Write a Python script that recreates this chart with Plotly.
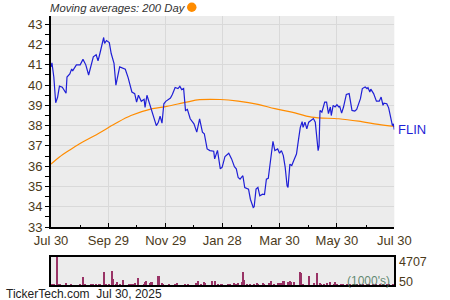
import plotly.graph_objects as go

price_dates = [
    "2024-07-30","2024-07-31","2024-08-02","2024-08-04","2024-08-06","2024-08-08","2024-08-11","2024-08-15",
    "2024-08-16","2024-08-19","2024-08-21","2024-08-22","2024-08-26","2024-08-30","2024-09-02","2024-09-04",
    "2024-09-05","2024-09-08","2024-09-13","2024-09-16","2024-09-18","2024-09-20","2024-09-23","2024-09-24",
    "2024-09-25","2024-09-27","2024-09-30","2024-10-02","2024-10-05","2024-10-07","2024-10-11","2024-10-13",
    "2024-10-17","2024-10-20","2024-10-24","2024-10-27","2024-10-29","2024-10-31","2024-11-03","2024-11-06",
    "2024-11-07","2024-11-09","2024-11-11","2024-11-14","2024-11-17","2024-11-19","2024-11-21","2024-11-23",
    "2024-11-25","2024-11-27","2024-11-29","2024-12-04","2024-12-06","2024-12-09","2024-12-12","2024-12-14",
    "2024-12-16","2024-12-18","2024-12-20","2024-12-22","2024-12-25","2024-12-29","2025-01-01","2025-01-04",
    "2025-01-07","2025-01-09","2025-01-12","2025-01-15","2025-01-19","2025-01-20","2025-01-23","2025-01-26",
    "2025-01-28","2025-01-31","2025-02-04","2025-02-07","2025-02-10","2025-02-12","2025-02-14","2025-02-16",
    "2025-02-19","2025-02-21","2025-02-25","2025-02-27","2025-03-02","2025-03-03","2025-03-05","2025-03-07",
    "2025-03-09","2025-03-12","2025-03-14","2025-03-16","2025-03-18","2025-03-20","2025-03-23","2025-03-25",
    "2025-03-28","2025-03-30","2025-04-01","2025-04-03","2025-04-05","2025-04-07","2025-04-08","2025-04-10",
    "2025-04-12","2025-04-14","2025-04-17","2025-04-19","2025-04-21","2025-04-23","2025-04-24","2025-04-26",
    "2025-04-28","2025-04-30","2025-05-03","2025-05-05","2025-05-07","2025-05-09","2025-05-10","2025-05-11",
    "2025-05-12","2025-05-14","2025-05-16","2025-05-17","2025-05-19","2025-05-21","2025-05-23","2025-05-24",
    "2025-05-26","2025-05-28","2025-05-30","2025-06-01","2025-06-02","2025-06-04","2025-06-06","2025-06-09",
    "2025-06-12","2025-06-14","2025-06-15","2025-06-18","2025-06-20","2025-06-24","2025-06-26","2025-06-29",
    "2025-07-01","2025-07-02","2025-07-04","2025-07-05","2025-07-08","2025-07-11","2025-07-14","2025-07-16",
    "2025-07-18","2025-07-19","2025-07-22","2025-07-24","2025-07-27","2025-07-28","2025-07-29","2025-07-30",
]
price_values = [
    40.9,41.1,40.4,39.13,39.4,39.95,39.9,39.6,
    40.4,40.55,40.8,40.7,41.0,41.0,41.27,41.1,
    41.0,40.5,41.4,41.5,41.2,41.56,42.3,42.35,
    42.06,42.2,42.1,41.56,41.07,40.0,40.9,40.85,
    40.78,40.37,39.66,39.58,39.16,39.5,39.2,39.3,
    38.9,39.5,39.2,38.67,38.2,38.0,38.15,38.47,
    38.12,39.08,39.2,39.36,39.54,39.88,39.83,39.94,
    39.78,39.83,38.75,38.8,38.34,38.09,37.68,38.34,
    37.68,37.6,36.85,36.77,36.74,36.36,36.78,35.87,
    35.95,36.48,36.64,36.36,35.98,35.87,35.44,35.36,
    35.53,34.95,34.87,34.37,33.96,34.0,34.87,34.95,
    34.54,34.62,34.6,35.36,35.4,36.19,37.23,36.77,
    36.85,36.64,36.77,36.52,35.94,35.03,34.95,36.1,
    36.03,36.27,36.6,37.26,37.9,38.2,37.92,38.17,
    37.84,38.17,38.26,38.35,38.17,37.43,36.77,37.0,
    38.75,38.67,39.08,39.16,39.16,38.59,38.92,38.5,
    39.0,38.92,39.03,38.92,38.95,38.62,38.92,39.54,
    39.58,39.08,38.75,38.72,38.8,39.33,39.83,39.91,
    39.83,39.88,39.66,39.8,39.58,39.21,39.21,39.41,
    39.0,39.11,39.08,38.88,38.17,38.0,38.09,37.8,
]

ma_dates = ["2024-07-30","2024-08-08","2024-08-19","2024-08-29","2024-09-18","2024-10-06","2024-10-23",
            "2024-11-15","2024-11-30","2024-12-21","2025-01-04","2025-01-26","2025-02-14","2025-03-07",
            "2025-03-25","2025-04-12","2025-05-03","2025-06-01","2025-06-22","2025-07-13","2025-07-30"]
ma_values = [36.1,36.45,36.8,37.1,37.6,38.09,38.5,38.84,38.95,39.16,39.28,39.29,39.21,39.05,
             38.84,38.67,38.42,38.34,38.22,38.06,37.96]

vol_dates = [
    "2024-07-31","2024-08-02","2024-08-06","2024-08-08","2024-08-09","2024-08-15","2024-08-20","2024-08-30",
    "2024-09-02","2024-09-04","2024-09-11","2024-09-13","2024-09-16","2024-09-19","2024-09-20","2024-09-25",
    "2024-09-27","2024-09-30","2024-10-03","2024-10-04","2024-10-07","2024-10-08","2024-10-11","2024-10-15",
    "2024-10-21","2024-10-23","2024-10-25","2024-10-28","2024-10-31","2024-11-06","2024-11-07","2024-11-08",
    "2024-11-12","2024-11-14","2024-11-15","2024-11-21","2024-11-22","2024-11-25","2024-11-26","2024-12-03",
    "2024-12-09","2024-12-11","2024-12-20","2024-12-23","2024-12-31","2025-01-02","2025-01-06","2025-01-09",
    "2025-01-10","2025-01-17","2025-01-20","2025-01-24","2025-01-27","2025-01-28","2025-02-03","2025-02-05",
    "2025-02-10","2025-02-12","2025-02-14","2025-02-18","2025-02-19","2025-02-20","2025-02-24","2025-02-27",
    "2025-03-03","2025-03-06","2025-03-07","2025-03-13","2025-03-14","2025-03-19","2025-03-21","2025-03-24",
    "2025-03-28","2025-03-31","2025-04-01","2025-04-03","2025-04-04","2025-04-08","2025-04-10","2025-04-11",
    "2025-04-14","2025-04-21","2025-04-22","2025-04-24","2025-04-30","2025-05-01","2025-05-06","2025-05-09",
    "2025-05-12","2025-05-13","2025-05-16","2025-05-20","2025-05-23","2025-05-27","2025-05-28","2025-05-30",
    "2025-06-04","2025-06-06","2025-06-10","2025-06-13","2025-06-17","2025-06-20","2025-06-24","2025-06-27",
    "2025-07-01","2025-07-03","2025-07-08","2025-07-11","2025-07-15","2025-07-18","2025-07-22","2025-07-25",
    "2025-07-29",
]
vol_values = [
    270,270,4707,160,160,380,160,270,
    1350,270,270,270,270,160,160,2150,
    160,270,2430,1080,270,490,270,810,
    270,270,270,370,1190,270,540,700,
    370,490,540,1620,1620,370,270,270,
    270,370,270,270,370,700,270,540,
    430,700,700,270,270,160,270,270,
    430,160,430,600,2150,810,270,270,
    270,320,160,430,270,430,700,270,
    320,320,320,700,700,600,700,600,
    540,2150,2050,270,1620,270,320,2000,
    320,270,270,430,600,270,600,160,
    160,270,160,270,160,270,160,270,
    160,270,160,270,160,270,160,270,
    160,
]

x_tickvals = ["2024-07-30","2024-09-29","2024-11-29","2025-01-28","2025-03-30","2025-05-30","2025-07-30"]
x_ticktext = ["Jul 30","Sep 29","Nov 29","Jan 28","Mar 30","May 30","Jul 30"]
x_minor = ["2024-08-30","2024-10-29","2024-12-29","2025-02-28","2025-04-30","2025-06-30"]
y_tickvals = [33,34,35,36,37,38,39,40,41,42,43]

TXT = "#4b3a1a"
FONT = "Liberation Sans, Arial, sans-serif"
BG = "#ececec"
GRID = "#d9d9d9"

fig = go.Figure()
fig.add_trace(go.Scatter(x=ma_dates, y=ma_values, mode="lines", line=dict(color="#ff8c00", width=1.2, shape="spline"),
                         xaxis="x", yaxis="y", hoverinfo="skip"))
fig.add_trace(go.Scatter(x=price_dates, y=price_values, mode="lines", line=dict(color="#1f1fd6", width=1.2),
                         xaxis="x", yaxis="y", hoverinfo="skip"))
fig.add_trace(go.Bar(x=vol_dates, y=vol_values, marker=dict(color="#993366", line=dict(width=0)),
                     width=1.4 * 86400000, xaxis="x2", yaxis="y2", hoverinfo="skip"))

xdom = [51 / 450, 394.3 / 450]
xr = ["2024-07-30", "2025-07-30"]
fig.update_layout(
    width=450, height=300, margin=dict(l=0, r=0, t=0, b=0, autoexpand=False),
    paper_bgcolor="white", plot_bgcolor=BG, showlegend=False, bargap=0,
    font=dict(family=FONT, color=TXT, size=13),
    xaxis=dict(domain=xdom, range=xr, type="date", anchor="y", automargin=False,
               tickmode="array", tickvals=x_tickvals, ticktext=x_ticktext,
               ticks="inside", ticklen=4, tickcolor="black", tickwidth=1,
               showgrid=True, gridcolor=GRID, gridwidth=1,
               showline=True, linecolor="black", linewidth=2,
               tickfont=dict(size=13, color=TXT, family=FONT),
               minor=dict(tickvals=x_minor, ticks="inside", ticklen=2, tickcolor="black", showgrid=False),
               zeroline=False, fixedrange=True),
    yaxis=dict(domain=[1 - 227 / 300, 1 - 16 / 300], range=[33, 43.41], anchor="x", automargin=False,
               tickmode="array", tickvals=y_tickvals,
               ticks="outside", ticklen=4, tickcolor="black", tickwidth=1,
               showgrid=True, gridcolor=GRID, gridwidth=1,
               showline=True, linecolor="black", linewidth=2,
               tickfont=dict(size=13, color=TXT, family=FONT),
               minor=dict(dtick=0.5, tick0=33, ticks="outside", ticklen=4, tickcolor="black", showgrid=False),
               zeroline=False, fixedrange=True),
    xaxis2=dict(domain=xdom, range=xr, type="date", anchor="y2", automargin=False,
                showticklabels=False, ticks="", showgrid=False,
                showline=True, linecolor="black", linewidth=2, mirror=True, zeroline=False),
    yaxis2=dict(domain=[1 - 285 / 300, 1 - 256.7 / 300], range=[0, 4707], anchor="x2", automargin=False,
                showticklabels=False, ticks="", showgrid=False,
                showline=True, linecolor="black", linewidth=2, mirror=True, zeroline=False),
)

# Title with orange marker
fig.add_annotation(text="<i>Moving averages: 200 Day</i>", xref="paper", yref="paper",
                   x=48 / 450, y=1 - 8 / 300, xanchor="left", yanchor="middle", showarrow=False,
                   font=dict(size=11.3, color="#333333", family=FONT))
fig.add_shape(type="circle", xref="paper", yref="paper",
              x0=187 / 450, x1=196.5 / 450, y0=1 - 12 / 300, y1=1 - 2.5 / 300,
              fillcolor="#ff8c00", line=dict(width=0))

# Series label
fig.add_annotation(text="FLIN", xref="paper", yref="y", x=396 / 450, y=price_values[-1],
                   xanchor="left", yanchor="middle", showarrow=False,
                   font=dict(size=13, color="#1f1fd6", family=FONT))

# Volume labels
fig.add_annotation(text="4707", xref="paper", yref="paper", x=397 / 450, y=1 - 262.3 / 300,
                   xanchor="left", yanchor="middle", showarrow=False, font=dict(size=12.5, color=TXT, family=FONT))
fig.add_annotation(text="50", xref="paper", yref="paper", x=397 / 450, y=1 - 282 / 300,
                   xanchor="left", yanchor="middle", showarrow=False, font=dict(size=12.5, color=TXT, family=FONT))
fig.add_annotation(text="(1000's)", xref="paper", yref="paper", x=392 / 450, y=1 - 281 / 300,
                   xanchor="right", yanchor="middle", showarrow=False,
                   font=dict(size=12, color="rgba(60,110,80,0.8)", family=FONT))

# Footer
fig.add_annotation(text="TickerTech.com  Jul 30, 2025", xref="paper", yref="paper", x=4 / 450, y=1 - 294 / 300,
                   xanchor="left", yanchor="middle", showarrow=False, font=dict(size=12, color="#222222", family=FONT))

fig.write_html("out.html", config={"displayModeBar": False})
